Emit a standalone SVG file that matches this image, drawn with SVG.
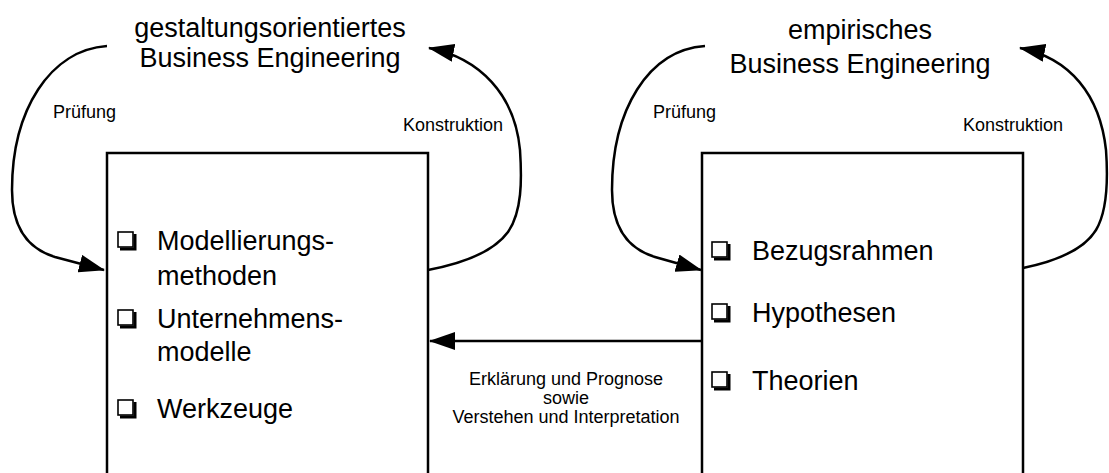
<svg xmlns="http://www.w3.org/2000/svg" width="1109" height="473" viewBox="0 0 1109 473">
  <style>
    .title { font-family: "Liberation Sans", Arial, sans-serif; font-size: 27px; fill: #000; text-anchor: middle; }
    .item { font-family: "Liberation Sans", Arial, sans-serif; font-size: 27px; fill: #000; }
    .small { font-family: "Liberation Sans", Arial, sans-serif; font-size: 18px; fill: #000; }
    .mid { text-anchor: middle; }
    .frame { fill: none; stroke: #000; stroke-width: 2.5; }
    .edge { fill: none; stroke: #000; stroke-width: 2.5; }
  </style>
  <defs>
    <marker id="arrow" viewBox="0 0 26 18" refX="25" refY="9" markerWidth="26" markerHeight="18" markerUnits="userSpaceOnUse" orient="auto">
      <path d="M0,0 L26,9 L0,18 Z" fill="#000"/>
    </marker>
    <!-- check box bullet with drop shadow -->
    <g id="chk">
      <rect x="0" y="0" width="15" height="15" fill="#fff" stroke="#000" stroke-width="1.6"/>
      <polyline points="2,17 17,17 17,2" fill="none" stroke="#000" stroke-width="3"/>
    </g>
  </defs>

  <!-- titles -->
  <g id="title-left">
    <text class="title" x="270" y="37">gestaltungsorientiertes</text>
    <text class="title" x="270" y="67">Business Engineering</text>
  </g>
  <g id="title-right">
    <text class="title" x="860" y="39">empirisches</text>
    <text class="title" x="860" y="73">Business Engineering</text>
  </g>

  <!-- left block: design oriented -->
  <g id="node-gestaltung">
    <path class="frame" d="M107,480 L107,153 L428,153 L428,480"/>
    <use href="#chk" x="118" y="232"/>
    <text class="item" x="157" y="250">Modellierungs-</text>
    <text class="item" x="157" y="285">methoden</text>
    <use href="#chk" x="118" y="310"/>
    <text class="item" x="157" y="328">Unternehmens-</text>
    <text class="item" x="157" y="361">modelle</text>
    <use href="#chk" x="118" y="400"/>
    <text class="item" x="157" y="418">Werkzeuge</text>
  </g>

  <!-- right block: empirical -->
  <g id="node-empirisch">
    <path class="frame" d="M702,480 L702,153 L1023,153 L1023,480"/>
    <use href="#chk" x="712" y="242"/>
    <text class="item" x="752" y="260">Bezugsrahmen</text>
    <use href="#chk" x="712" y="304"/>
    <text class="item" x="752" y="322">Hypothesen</text>
    <use href="#chk" x="712" y="372"/>
    <text class="item" x="752" y="390">Theorien</text>
  </g>

  <!-- connectors -->
  <g id="connectors">
    <path class="edge" d="M107,46 C50,50 12,110 12,190 C12,232 32,250 55,257 L104,270" marker-end="url(#arrow)"/>
    <path class="edge" d="M428,270 C470,262 495,250 508,232 C522,212 522,180 520,150 C515,95 480,58 429,48" marker-end="url(#arrow)"/>
    <path class="edge" d="M705,46 C648,50 612,110 612,190 C612,232 632,250 655,257 L701,270" marker-end="url(#arrow)"/>
    <path class="edge" d="M1023,268 C1062,260 1085,248 1096,230 C1108,210 1108,178 1106,150 C1100,95 1070,58 1020,48" marker-end="url(#arrow)"/>
    <path class="edge" d="M702,341 L430,341" marker-end="url(#arrow)"/>
  </g>

  <!-- connector labels -->
  <g id="labels">
    <text class="small" x="53" y="118">Prüfung</text>
    <text class="small" x="403" y="131">Konstruktion</text>
    <text class="small" x="653" y="118">Prüfung</text>
    <text class="small" x="963" y="131">Konstruktion</text>
    <text class="small mid" x="566" y="385">Erklärung und Prognose</text>
    <text class="small mid" x="566" y="404">sowie</text>
    <text class="small mid" x="566" y="423">Verstehen und Interpretation</text>
  </g>
</svg>
